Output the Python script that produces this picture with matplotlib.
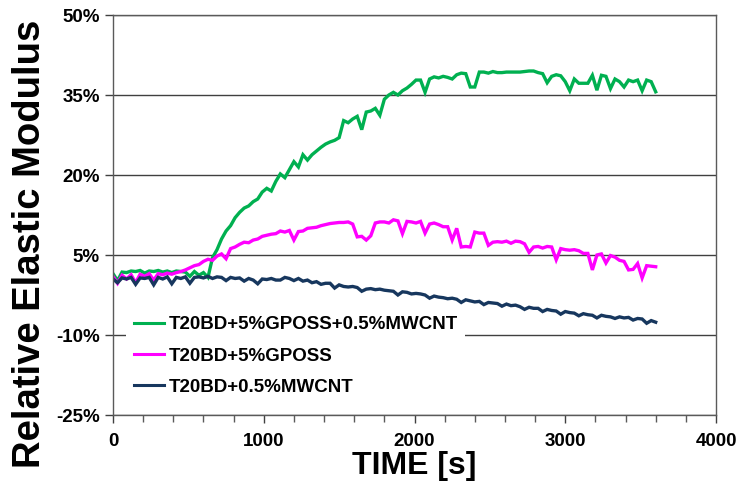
import numpy as np
import matplotlib
matplotlib.use("Agg")
import matplotlib.pyplot as plt
from matplotlib.ticker import MultipleLocator

plt.rcParams['font.family'] = ['Liberation Sans', 'DejaVu Sans']
plt.rcParams['font.weight'] = 'bold'

# sample times (s), one reading every 30 s
time_s = np.arange(0, 3601, 30)

# relative elastic modulus, in %
gposs_mwcnt = [
    1.5, 0.2, 1.8, 1.7, 2.0, 1.9, 2.1, 1.6, 2.0, 1.9,
    2.1, 1.8, 2.0, 1.7, 2.0, 1.9, 1.8, 1.0, 1.9, 1.2,
    1.7, 0.8, 4.5, 6.0, 8.0, 9.5, 10.5, 12.0, 13.0, 13.8,
    14.2, 15.0, 15.5, 16.8, 17.5, 17.0, 18.8, 20.2, 19.5, 21.0,
    22.5, 21.5, 23.8, 22.8, 23.8, 24.5, 25.2, 25.8, 26.2, 26.5,
    27.0, 30.2, 29.8, 30.5, 31.0, 28.5, 31.8, 32.0, 32.5, 31.2,
    34.2, 35.0, 35.5, 35.0, 35.8, 36.3, 37.0, 37.8, 37.8, 35.5,
    38.0, 38.4, 38.2, 38.5, 38.3, 38.0, 38.8, 39.1, 39.0, 36.5,
    36.5, 39.3, 39.3, 39.1, 39.4, 39.2, 39.2, 39.3, 39.3, 39.3,
    39.3, 39.4, 39.5, 39.5, 39.2, 39.0, 37.3, 38.5, 38.8, 38.6,
    37.5, 35.8, 38.0, 37.2, 37.2, 37.2, 38.7, 35.9, 38.7, 38.5,
    36.2, 38.0, 37.5, 36.5, 37.8, 37.5, 37.8, 35.8, 37.8, 37.5,
    35.6,
]
gposs = [
    1.0, -0.3, 1.2, 0.5, 1.3, -0.2, 1.4, 1.0, 1.5, 0.3,
    1.5, 1.3, 1.6, 1.4, 1.7, 1.9, 2.2, 2.6, 3.0, 3.2,
    3.8, 4.2, 4.0, 4.8, 5.2, 4.3, 6.2, 6.5, 7.0, 7.4,
    7.3, 7.8, 8.0, 8.5, 8.7, 8.9, 9.0, 9.5, 9.3, 9.6,
    7.8, 9.4, 9.5, 10.0, 10.1, 10.2, 10.5, 10.7, 10.9, 11.0,
    11.1, 11.1, 11.2, 10.8, 8.4, 8.5, 7.8, 8.6, 11.0, 11.2,
    11.2, 11.0, 11.6, 11.4, 9.0, 11.3, 11.2, 11.0, 11.3, 9.1,
    10.8, 11.0, 10.7, 10.3, 10.3, 7.8, 10.0, 6.5, 6.6, 6.5,
    9.3, 9.1, 9.1, 6.8, 7.4, 7.5, 7.4, 7.6, 7.2, 7.6,
    7.5, 7.1, 5.5, 6.5, 6.6, 6.3, 6.6, 6.5, 4.1, 6.2,
    6.0, 5.9, 6.0, 5.8, 5.3, 5.3, 2.2, 5.0, 5.2, 3.5,
    4.9, 4.6, 4.0, 3.8, 2.2, 2.3, 3.4, 0.7, 3.0, 2.9,
    2.8,
]
mwcnt = [
    0.5, -0.2, 0.7, 0.5, 0.8, -0.5, 0.7, 0.6, 0.8, -0.6,
    0.8, 0.5, 0.9, -0.4, 0.8, 0.6, 0.9, -0.3, 0.8, 0.9,
    0.7, 1.0, 0.6, 0.9, 0.8, 0.2, 0.8, 0.6, 0.7, 0.1,
    0.6, 0.3, -0.4, 0.5, 0.4, 0.6, 0.3, 0.3, 0.8, 0.6,
    0.2, 0.6, 0.1, 0.3, -0.2, 0.0, -0.5, -0.3, -0.3, -1.2,
    -0.6, -0.9, -1.0, -0.9, -1.1, -1.8, -1.4, -1.3, -1.5, -1.4,
    -1.6, -1.7, -1.8, -2.5, -1.9, -2.0, -2.3, -2.2, -2.3, -2.5,
    -3.1, -2.7, -2.9, -3.0, -3.2, -3.1, -3.3, -3.9, -3.4, -3.6,
    -3.8, -3.7, -4.3, -3.9, -4.0, -4.1, -4.6, -4.2, -4.5, -4.4,
    -4.7, -5.2, -4.8, -5.0, -5.0, -5.6, -5.2, -5.4, -5.5, -6.1,
    -5.6, -5.8, -5.9, -6.4, -6.0, -6.2, -6.3, -6.8, -6.3, -6.5,
    -6.6, -6.9, -6.6, -6.8, -6.7, -7.2, -6.9, -7.0, -7.8, -7.3,
    -7.6,
]

series = [
    ("T20BD+5%GPOSS+0.5%MWCNT", gposs_mwcnt, "#00B050"),
    ("T20BD+5%GPOSS", gposs, "#FF00FF"),
    ("T20BD+0.5%MWCNT", mwcnt, "#17375E"),
]

y_ticks = [-25, -10, 5, 20, 35, 50]

fig = plt.figure(figsize=(7.4, 4.92), dpi=100)
ax = fig.add_axes([113 / 740, 77 / 492, 603 / 740, 400 / 492])

for label, vals, col in series:
    ax.plot(time_s, vals, color=col, lw=2.4, label=label,
            solid_joinstyle='miter')

ax.set_xlim(0, 4000)
ax.set_ylim(-25, 50)
ax.xaxis.set_major_locator(MultipleLocator(1000))
ax.xaxis.set_minor_locator(MultipleLocator(200))
ax.set_yticks(y_ticks)
ax.set_yticklabels([f"{v}%" for v in y_ticks])
ax.yaxis.grid(True, color='#404040', lw=1)
ax.set_axisbelow(True)

for s in ax.spines.values():
    s.set_color('#5a5a5a')
    s.set_linewidth(1)

ax.tick_params(axis='both', which='major', labelsize=13.5, colors='#404040',
               labelcolor='black', length=6, width=1)
ax.tick_params(axis='x', which='minor', length=5, width=1, colors='#5a5a5a')
ax.tick_params(axis='x', pad=7)

ax.set_xlabel("TIME [s]", fontsize=23, fontweight='bold')
ax.set_ylabel("Relative Elastic Modulus", fontsize=27.5, fontweight='bold')
ax.xaxis.set_label_coords(0.5, -0.128)
ax.xaxis.label.set_verticalalignment('center')
ax.yaxis.set_label_coords(-0.138, 0.4275)
ax.yaxis.label.set_verticalalignment('center')

leg = ax.legend(loc='center left', bbox_to_anchor=(0.022, 0.1475),
                fontsize=13.5, frameon=True, framealpha=1, edgecolor='none',
                fancybox=False, handlelength=1.6, handletextpad=0.25,
                labelspacing=0.75, borderaxespad=0, borderpad=0.4)
for line in leg.get_lines():
    line.set_linewidth(2.2)

fig.savefig("out.png", dpi=100)
